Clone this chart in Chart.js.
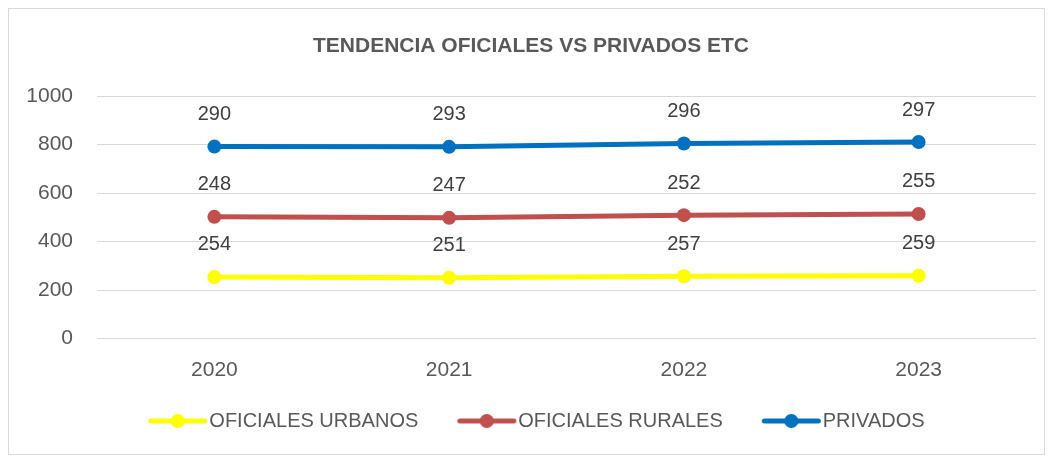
<!DOCTYPE html>
<html lang="es">
<head>
<meta charset="UTF-8">
<title>Tendencia oficiales vs privados</title>
<script src="https://cdn.jsdelivr.net/npm/chart.js@4.4.0/dist/chart.umd.min.js"></script>
<style>
  html, body { margin: 0; padding: 0; background: #fff; }
  canvas { display: block; }
</style>
</head>
<body>
<canvas id="grafico" width="1051" height="458"></canvas>
<script>
    const anios = ['2020', '2021', '2022', '2023'];
    const oficialesUrbanos = [254, 251, 257, 259];
    const oficialesRurales = [248, 247, 252, 255];
    const privados = [290, 293, 296, 297];
    const ticksY = [0, 200, 400, 600, 800, 1000];

    const fuente = "'Liberation Sans', Arial, sans-serif";
    const gris = '#595959';

    // icono de la leyenda: linea con circulo, corrido a la derecha para quedar pegado al texto
    function iconoLeyenda(color) {
        const c = document.createElement('canvas');
        c.width = 82;
        c.height = 16;
        const g = c.getContext('2d');
        g.strokeStyle = color;
        g.lineWidth = 5;
        g.lineCap = 'round';
        g.beginPath();
        g.moveTo(23.5, 8);
        g.lineTo(77.5, 8);
        g.stroke();
        g.fillStyle = color;
        g.beginPath();
        g.arc(50.5, 8, 7, 0, Math.PI * 2);
        g.fill();
        return c;
    }

    const marco = {
        id: 'marco',
        beforeDraw: (chart) => {
            const ctx = chart.ctx;
            ctx.save();
            ctx.fillStyle = '#fff';
            ctx.fillRect(0, 0, chart.width, chart.height);
            ctx.strokeStyle = '#d9d9d9';
            ctx.lineWidth = 1;
            ctx.strokeRect(8.5, 8.5, 1036, 446);
            ctx.restore();
        }
    };

    const etiquetas = {
        id: 'etiquetas',
        afterDatasetsDraw: (chart) => {
            const ctx = chart.ctx;
            ctx.save();
            ctx.font = '20px ' + fuente;
            ctx.fillStyle = '#404040';
            ctx.textAlign = 'center';
            ctx.textBaseline = 'middle';
            chart.data.datasets.forEach((ds, i) => {
                chart.getDatasetMeta(i).data.forEach((p, j) => {
                    ctx.fillText(ds.data[j], p.x, p.y - 32);
                });
            });
            ctx.restore();
        }
    };

    const series = [
        { label: 'OFICIALES URBANOS', data: oficialesUrbanos, color: '#ffff00' },
        { label: 'OFICIALES RURALES', data: oficialesRurales, color: '#c0504d' },
        { label: 'PRIVADOS', data: privados, color: '#0070c0' }
    ];

    const iconos = series.map(s => iconoLeyenda(s.color));

    const data = {
        labels: anios,
        datasets: series.map(s => ({
            label: s.label,
            data: s.data,
            borderColor: s.color,
            backgroundColor: s.color,
            borderWidth: 5,
            pointRadius: 7,
            pointHoverRadius: 7,
            pointBorderWidth: 0,
            tension: 0,
            fill: false
        }))
    };

    const config = {
        type: 'line',
        data: data,
        options: {
            responsive: false,
            animation: false,
            layout: { padding: { left: 26, right: 15, top: 0, bottom: 17 } },
            plugins: {
                title: {
                    display: true,
                    text: 'TENDENCIA OFICIALES VS PRIVADOS ETC',
                    color: gris,
                    font: { family: fuente, size: 21, weight: 'bold' },
                    padding: { top: 34, bottom: 37 }
                },
                legend: {
                    position: 'bottom',
                    labels: {
                        usePointStyle: true,
                        pointStyleWidth: 62,
                        padding: 28,
                        color: gris,
                        font: { family: fuente, size: 20 },
                        generateLabels: (chart) => chart.data.datasets.map((ds, i) => ({
                            text: ds.label,
                            fillStyle: ds.borderColor,
                            strokeStyle: ds.borderColor,
                            lineWidth: 0,
                            pointStyle: iconos[i],
                            hidden: false,
                            datasetIndex: i,
                            fontColor: gris
                        }))
                    }
                },
                tooltip: { enabled: false }
            },
            scales: {
                x: {
                    offset: true,
                    grid: { display: false, drawTicks: false },
                    border: { display: false },
                    ticks: { color: gris, padding: 19, font: { family: fuente, size: 21 } },
                    afterFit: (s) => { s.height = 44.5; }
                },
                y: {
                    stacked: true,
                    min: 0,
                    max: 1000,
                    grid: { color: '#d9d9d9', lineWidth: 1, drawTicks: false },
                    border: { display: false },
                    ticks: {
                        color: gris,
                        padding: 24,
                        font: { family: fuente, size: 21 },
                        callback: (v) => String(v)
                    },
                    afterBuildTicks: (s) => { s.ticks = ticksY.map(v => ({ value: v })); },
                    afterFit: (s) => { s.width = 71; }
                }
            }
        },
        plugins: [marco, etiquetas]
    };

    const chart = new Chart(document.getElementById('grafico'), config);
</script>
</body>
</html>
